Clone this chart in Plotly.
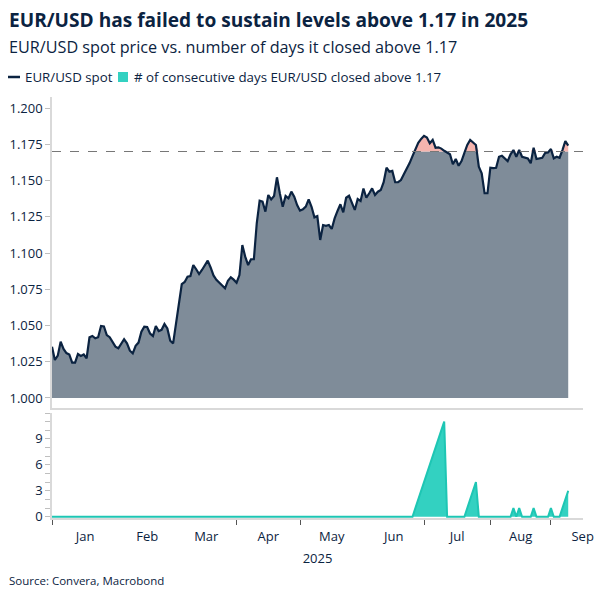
import plotly.graph_objects as go
import pandas as pd

NAVY = "#0b2341"
GREY_FILL = "#7f8c99"
PINK = "#f4b4ae"
TEAL_FILL = "#33d1c1"
TEAL_LINE = "#1ec6b4"
AXIS_GREY = "#d9d9d9"
FONT = "Open Sans"

THRESHOLD = 1.17

# business days, Jan 1 -> Sep 9 2025
start_date = "2025-01-01"
end_date = "2025-09-09"

spot_jan = [1.0354, 1.0262, 1.0292, 1.0388, 1.0338, 1.0310, 1.0300, 1.0244, 1.0244, 1.0303,
            1.0290, 1.0300, 1.0274, 1.0419, 1.0428, 1.0412, 1.0419, 1.0497, 1.0494, 1.0434,
            1.0419, 1.0382, 1.0354]
spot_feb = [1.0343, 1.0377, 1.0405, 1.0377, 1.0326, 1.0308, 1.0360, 1.0382, 1.0457, 1.0492,
            1.0490, 1.0445, 1.0428, 1.0497, 1.0462, 1.0470, 1.0510, 1.0480, 1.0395, 1.0377]
spot_mar = [1.0510, 1.0660, 1.0786, 1.0800, 1.0837, 1.0841, 1.0917, 1.0888, 1.0855, 1.0883,
            1.0920, 1.0947, 1.0900, 1.0845, 1.0815, 1.0795, 1.0770, 1.0756, 1.0809, 1.0832,
            1.0816]
spot_apr = [1.0795, 1.0848, 1.1055, 1.0975, 1.0917, 1.0957, 1.0957, 1.1205, 1.1361, 1.1354,
            1.1285, 1.1400, 1.1370, 1.1393, 1.1522, 1.1412, 1.1319, 1.1393, 1.1377, 1.1423,
            1.1389, 1.1331]
spot_may = [1.1292, 1.1301, 1.1320, 1.1370, 1.1319, 1.1246, 1.1255, 1.1090, 1.1193, 1.1188,
            1.1193, 1.1166, 1.1239, 1.1290, 1.1336, 1.1281, 1.1381, 1.1395, 1.1350, 1.1297,
            1.1372, 1.1359]
spot_jun = [1.1445, 1.1381, 1.1412, 1.1446, 1.1400, 1.1423, 1.1434, 1.1488, 1.1588, 1.1561,
            1.1566, 1.1488, 1.1488, 1.1503, 1.1543, 1.1580, 1.1620, 1.1668, 1.1712, 1.1760,
            1.1787]
spot_jul = [1.1808, 1.1797, 1.1757, 1.1780, 1.1726, 1.1729, 1.1720, 1.1705, 1.1690, 1.1681,
            1.1612, 1.1648, 1.1602, 1.1634, 1.1690, 1.1745, 1.1780, 1.1763, 1.1745, 1.1595,
            1.1550, 1.1412, 1.1412]
spot_aug = [1.1588, 1.1585, 1.1588, 1.1664, 1.1671, 1.1650, 1.1634, 1.1681, 1.1710, 1.1664,
            1.1710, 1.1664, 1.1657, 1.1653, 1.1619, 1.1726, 1.1648, 1.1653, 1.1657, 1.1690,
            1.1694]
spot_sep = [1.1717, 1.1653, 1.1664, 1.1657, 1.1710, 1.1772, 1.1741]

# consecutive days closed above 1.17
days_jan = [0] * 23
days_feb = [0] * 20
days_mar = [0] * 21
days_apr = [0] * 22
days_may = [0] * 22
days_jun = [0, 0, 0, 0, 0, 0, 0, 0, 0, 0, 0, 0, 0, 0, 0, 0, 0, 0, 1, 2, 3]
days_jul = [4, 5, 6, 7, 8, 9, 10, 11, 0, 0, 0, 0, 0, 0, 0, 1, 2, 3, 4, 0, 0, 0, 0]
days_aug = [0, 0, 0, 0, 0, 0, 0, 0, 1, 0, 1, 0, 0, 0, 0, 1, 0, 0, 0, 0, 0]
days_sep = [1, 0, 0, 0, 1, 2, 3]

# month ticks (marks at month start, labels in the middle of each month)
month_starts = ["2025-01-01", "2025-02-01", "2025-03-01", "2025-04-01", "2025-05-01",
                "2025-06-01", "2025-07-01", "2025-08-01", "2025-09-01"]
month_mids = ["2025-01-16 12:00", "2025-02-17", "2025-03-17 12:00", "2025-04-16", "2025-05-16",
              "2025-06-16 12:00", "2025-07-16 12:00", "2025-08-15 12:00", "2025-09-16"]
month_names = ["Jan", "Feb", "Mar", "Apr", "May", "Jun", "Jul", "Aug", "Sep"]

spot_name = "EUR/USD spot"
days_name = "# of consecutive days EUR/USD closed above 1.17"

dates = pd.bdate_range(start_date, end_date)
spot = spot_jan + spot_feb + spot_mar + spot_apr + spot_may + spot_jun + spot_jul + spot_aug + spot_sep
days_above = days_jan + days_feb + days_mar + days_apr + days_may + days_jun + days_jul + days_aug + days_sep

below = [min(v, THRESHOLD) for v in spot]
above = [max(v, THRESHOLD) for v in spot]

fig = go.Figure()

# grey area from 1.000 up to the line (capped at 1.17)
fig.add_trace(go.Scatter(x=dates, y=[1.0] * len(dates), mode="lines", line=dict(width=0),
                         showlegend=False, hoverinfo="skip", xaxis="x", yaxis="y"))
fig.add_trace(go.Scatter(x=dates, y=below, mode="lines", line=dict(width=0), fill="tonexty",
                         fillcolor=GREY_FILL, showlegend=False, hoverinfo="skip", xaxis="x", yaxis="y"))
# pink area above 1.17
fig.add_trace(go.Scatter(x=dates, y=[THRESHOLD] * len(dates), mode="lines", line=dict(width=0),
                         showlegend=False, hoverinfo="skip", xaxis="x", yaxis="y"))
fig.add_trace(go.Scatter(x=dates, y=above, mode="lines", line=dict(width=0), fill="tonexty",
                         fillcolor=PINK, showlegend=False, hoverinfo="skip", xaxis="x", yaxis="y"))
fig.add_trace(go.Scatter(x=dates, y=spot, mode="lines", name=spot_name, showlegend=False,
                         line=dict(color=NAVY, width=2.2), xaxis="x", yaxis="y"))

fig.add_trace(go.Scatter(x=dates, y=days_above, mode="lines", name=days_name, showlegend=False,
                         line=dict(color=TEAL_LINE, width=2), fill="tozeroy", fillcolor=TEAL_FILL,
                         xaxis="x2", yaxis="y2"))

fig.add_shape(type="line", xref="x domain", yref="y", x0=0, x1=1, y0=THRESHOLD, y1=THRESHOLD,
              line=dict(color="#777777", width=1, dash="dash"), layer="above")

# compact legend drawn by hand, like the original
fig.add_shape(type="line", xref="paper", yref="paper", x0=-0.0829, x1=-0.0603, y0=1.0475, y1=1.0475,
              line=dict(color=NAVY, width=2.5))
fig.add_annotation(text=spot_name, xref="paper", yref="paper", x=-0.055, y=1.0475,
                   xanchor="left", yanchor="middle", showarrow=False, font=dict(size=13.3, color=NAVY))
fig.add_shape(type="rect", xref="paper", yref="paper", x0=0.1243, x1=0.1431, y0=1.0356, y1=1.0594,
              line=dict(width=0), fillcolor=TEAL_FILL)
fig.add_annotation(text=days_name, xref="paper", yref="paper", x=0.150, y=1.0475,
                   xanchor="left", yanchor="middle", showarrow=False, font=dict(size=13.3, color=NAVY))

x_range = ["2025-01-01", "2025-09-16 03:00"]
breaks = [dict(bounds=["sat", "mon"])]

fig.update_layout(
    width=600, height=600,
    margin=dict(l=52, r=17, t=97, b=82, autoexpand=False),
    paper_bgcolor="white", plot_bgcolor="white",
    font=dict(family=FONT, color=NAVY, size=13),
    showlegend=False,
    xaxis=dict(domain=[0, 1], anchor="y", range=x_range, rangebreaks=breaks,
               showticklabels=False, ticks="", showgrid=False, zeroline=False,
               showline=True, linecolor=AXIS_GREY, linewidth=1.5),
    yaxis=dict(domain=[0.2613, 1], anchor="x", range=[0.9931, 1.2076], dtick=0.025,
               tickformat=".3f", ticks="outside", ticklen=5, tickcolor="#bfbfbf",
               showgrid=False, zeroline=False, showline=True, linecolor=AXIS_GREY, linewidth=1.5,
               tickfont=dict(size=13, color=NAVY)),
    xaxis2=dict(domain=[0, 1], anchor="y2", range=x_range, rangebreaks=breaks,
                tickmode="array", tickvals=month_mids, ticktext=month_names, ticks="",
                ticklabelstandoff=6,
                minor=dict(tickmode="array", tickvals=month_starts, ticks="outside", ticklen=5,
                           tickcolor="#555555", showgrid=False),
                showgrid=False, zeroline=False, showline=True, linecolor=AXIS_GREY, linewidth=1.5,
                tickfont=dict(size=13, color=NAVY),
                title=dict(text="2025", font=dict(size=13, color=NAVY), standoff=10)),
    yaxis2=dict(domain=[0, 0.2494], anchor="x2", range=[-0.15, 12], tickvals=[0, 3, 6, 9],
                ticks="outside", ticklen=5, tickcolor="#bfbfbf",
                minor=dict(dtick=1, tick0=0, ticks="outside", ticklen=5, tickcolor="#bfbfbf"),
                showgrid=False, zeroline=False, showline=True, linecolor=AXIS_GREY, linewidth=1.5,
                tickfont=dict(size=13, color=NAVY)),
)

fig.add_annotation(text="<b>EUR/USD has failed to sustain levels above 1.17 in 2025</b>",
                   xref="paper", yref="paper", x=-0.085, y=1.183, xanchor="left", yanchor="middle",
                   showarrow=False, font=dict(size=19.1, color=NAVY, family=FONT))
fig.add_annotation(text="EUR/USD spot price vs. number of days it closed above 1.17",
                   xref="paper", yref="paper", x=-0.085, y=1.119, xanchor="left", yanchor="middle",
                   showarrow=False, font=dict(size=16.2, color=NAVY, family=FONT))
fig.add_annotation(text="Source: Convera, Macrobond",
                   xref="paper", yref="paper", x=-0.085, y=-0.1496, xanchor="left", yanchor="middle",
                   showarrow=False, font=dict(size=11.5, color=NAVY, family=FONT))

# drop the browser's default 8px page margin so the figure sits at the window corner
fig.write_html("out.html", config={"displayModeBar": False},
               post_script="document.body.style.margin = '0';")
